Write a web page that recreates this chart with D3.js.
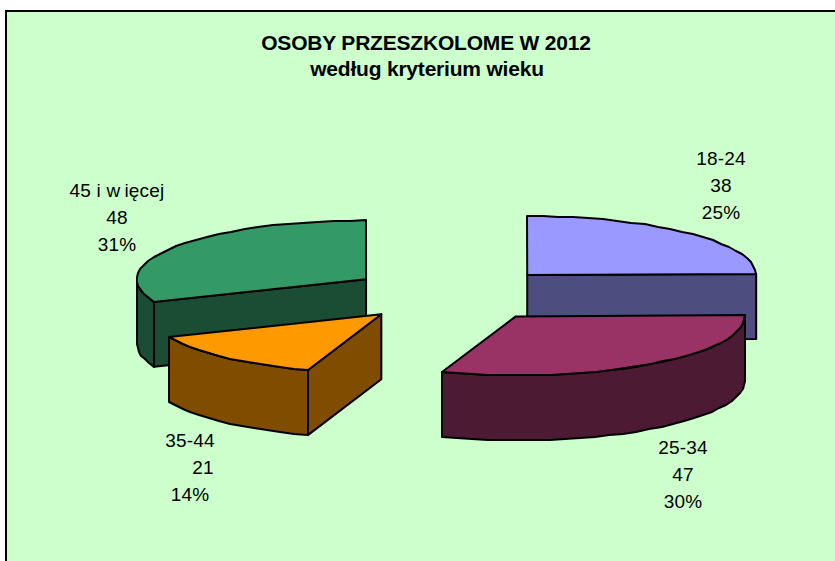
<!DOCTYPE html>
<html>
<head>
<meta charset="utf-8">
<script src="https://cdnjs.cloudflare.com/ajax/libs/d3/7.8.5/d3.min.js"></script>
<style>
html, body { margin: 0; padding: 0; background: #fff; }
svg { display: block; }
text { font-family: "Liberation Sans", Arial, sans-serif; fill: #000; }
</style>
</head>
<body>
<div id="chart"></div>
<script>
var categories = ["18-24", "25-34", "35-44", "45 i więcej"];
var values = [38, 47, 21, 48];
var percents = ["25%", "30%", "14%", "31%"];
var topColors = ["#9999ff", "#993366", "#ff9900", "#339966"];
var sideColors = ["#4d4d80", "#4d1a33", "#804d00", "#1a4d33"];
var titleLines = ["OSOBY PRZESZKOLOME W 2012", "według kryterium wieku"];

var width = 835, height = 561;
var cx = 453.5, cy = 294.5, rx = 229, ry = 59, depth = 65, explode = 0.46;

// label centres, first line of each slice
var labelPos = [[721, 158], [683, 447], [190, 440], [117, 190]];
var valueShift = [0, 0, 13, 0];

var svg = d3.select("#chart")
  .append("svg")
  .attr("width", width)
  .attr("height", height);

svg.append("rect")
  .attr("x", 6).attr("y", 11)
  .attr("width", width).attr("height", height)
  .attr("fill", "#ccffcc")
  .attr("stroke", "#000")
  .attr("stroke-width", 2);

svg.selectAll(".title")
  .data(titleLines)
  .enter()
  .append("text")
  .attr("class", "title")
  .attr("x", function(d, i){ return i == 0 ? 426 : 427; })
  .attr("y", function(d, i){ return 49.5 + i * 26.5; })
  .attr("text-anchor", "middle")
  .style("font-size", "21px")
  .style("font-weight", "bold")
  .style("letter-spacing", "-0.2px")
  .text(function(d){ return d; });

var pie = d3.pie().sort(null).value(function(d){ return d; });
var arcs = pie(values);

// ellipse projection, angle 0 on top and going clockwise
function px(o, a){ return o[0] + rx * Math.sin(a); }
function py(o, a){ return o[1] - ry * Math.cos(a); }

// rim points are rounded to whole pixels, the original outline is stepped too
function rim(o, a0, a1, drop){
  var n = Math.max(2, Math.ceil((a1 - a0) / 0.07));
  return d3.range(n + 1).map(function(i){
    var a = a0 + (a1 - a0) * i / n;
    return [Math.round(px(o, a)), Math.round(py(o, a)) + drop];
  });
}

var line = d3.line();
var PI = Math.PI;

// back to front
var order = [3, 0, 2, 1];

order.forEach(function(i){
  var d = arcs[i];
  var mid = (d.startAngle + d.endAngle) / 2;
  var o = [cx + explode * rx * Math.sin(mid), cy - explode * ry * Math.cos(mid)];
  var g = svg.append("g");
  var faces = [];

  // radial walls that face the viewer
  [d.startAngle, d.endAngle].forEach(function(a, k){
    var seen = k == 0 ? Math.sin(a) < -0.01 : Math.sin(a) > 0.01;
    if (seen) {
      faces.push([
        [o[0], o[1]],
        [px(o, a), py(o, a)],
        [px(o, a), py(o, a) + depth],
        [o[0], o[1] + depth]
      ]);
    }
  });

  // outer wall, front half of the ellipse only
  var a0 = Math.max(d.startAngle, PI / 2), a1 = Math.min(d.endAngle, PI * 1.5);
  if (a1 > a0) {
    faces.push(rim(o, a0, a1, 0).concat(rim(o, a0, a1, depth).reverse()));
  }

  g.selectAll(".side")
    .data(faces)
    .enter()
    .append("path")
    .attr("class", "side")
    .attr("d", function(f){ return line(f) + "Z"; })
    .attr("fill", sideColors[i])
    .attr("stroke", "#000")
    .attr("stroke-width", 2)
    .attr("stroke-linejoin", "round");

  g.append("path")
    .attr("d", line([o].concat(rim(o, d.startAngle, d.endAngle, 0))) + "Z")
    .attr("fill", topColors[i])
    .attr("stroke", "#000")
    .attr("stroke-width", 2)
    .attr("stroke-linejoin", "round");
});

// data labels
categories.forEach(function(c, i){
  var lab = svg.append("g")
    .style("font-size", "19px")
    .style("letter-spacing", "0.2px")
    .attr("text-anchor", "middle");
  var first = lab.append("text")
    .attr("x", labelPos[i][0])
    .attr("y", labelPos[i][1] + 7);
  if (c.indexOf("więcej") > -1) {
    // the original draws a gap after the w
    first.append("tspan").text("45 i w");
    first.append("tspan").attr("dx", 4).text("ięcej");
  } else {
    first.text(c);
  }
  lab.append("text")
    .attr("x", labelPos[i][0] + valueShift[i])
    .attr("y", labelPos[i][1] + 34)
    .text(values[i]);
  lab.append("text")
    .attr("x", labelPos[i][0])
    .attr("y", labelPos[i][1] + 61)
    .text(percents[i]);
});
</script>
</body>
</html>
